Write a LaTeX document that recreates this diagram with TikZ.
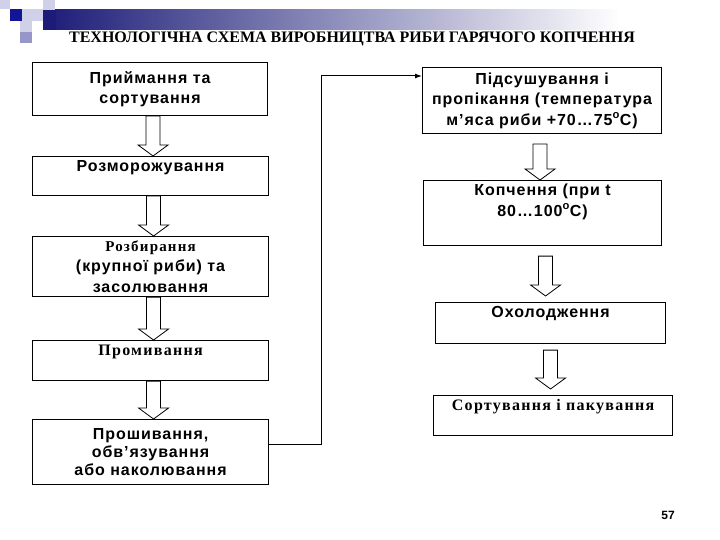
\documentclass[tikz,border=0pt]{standalone}
\usepackage{fontspec}
\setmainfont{Liberation Serif}
\newfontfamily\boxsans[LetterSpace=6]{Liberation Sans}
\newfontfamily\pagesans{Liberation Sans}
\newfontfamily\boxserif[LetterSpace=8]{Liberation Serif}
\usetikzlibrary{arrows.meta,calc}

\definecolor{barnavy}{RGB}{28,28,120}
\definecolor{sqblue}{RGB}{20,20,150}
\definecolor{sqlav}{RGB}{208,208,232}
\definecolor{sqmid}{RGB}{150,150,200}

\tikzset{
  stepbox/.style={draw, line width=1.1pt, anchor=north west, align=center,
    inner sep=3pt, font=\boxsans\bfseries\fontsize{16}{20.5}\selectfont},
  topbox/.style={stepbox, text depth=#1},
  serifbox/.style={font=\boxserif\bfseries\fontsize{16}{19}\selectfont},
  hollow/.style={draw, line width=0.8pt},
  elbow/.style={line width=1pt, -{Latex[length=7pt,width=5pt]}}
}

% hollow block arrow, x taken from the start point
\newcommand{\hollowarrow}[2]{%
  \draw[hollow] let \p1=#1, \p2=#2 in
    (\x1-7pt,\y1) -- (\x1-7pt,\y2+11pt) -- (\x1-15pt,\y2+11pt) -- (\x1,\y2)
    -- (\x1+15pt,\y2+11pt) -- (\x1+7pt,\y2+11pt) -- (\x1+7pt,\y1) -- cycle;}

\begin{document}
\begin{tikzpicture}[x=1pt,y=-1pt]
  \useasboundingbox (0,0) rectangle (720,540);

  % corner squares and top bar
  \shade[left color=barnavy, right color=white] (43,10) rectangle (620,30);
  \fill[barnavy] (43,10) rectangle (56,30);
  \fill[sqlav] (0,0) rectangle (10,9);
  \fill[sqlav] (43,0) rectangle (55,10);
  \fill[sqblue] (10,9) rectangle (22,21);
  \fill[sqlav] (22,9) rectangle (43,21);
  \fill[sqlav] (20,21) rectangle (32,32);
  \fill[sqmid] (20,32) rectangle (32,43);

  \node[font=\fontsize{16}{19}\selectfont\bfseries] (title) at (352,39)
    {ТЕХНОЛОГІЧНА СХЕМА ВИРОБНИЦТВА РИБИ ГАРЯЧОГО КОПЧЕННЯ};

  % left column
  \node[stepbox, minimum width=235, minimum height=53] (b1) at (32,62)
    {Приймання та\\сортування};
  \node[topbox=20pt, minimum width=236, minimum height=39] (b2) at (32,156)
    {Розморожування};
  \node[stepbox, minimum width=236, minimum height=60] (b3) at (32,236)
    {{\boxserif\bfseries\fontsize{15}{18}\selectfont Розбирання}\\(крупної риби) та\\засолювання};
  \node[topbox=21pt, serifbox, minimum width=236, minimum height=40] (b4) at (32,340)
    {Промивання};
  \node[stepbox, minimum width=236, minimum height=65,
    font=\boxsans\bfseries\fontsize{16}{18}\selectfont] (b5) at (32,419)
    {Прошивання,\\обв’язування\\або наколювання};

  % right column
  \node[stepbox, minimum width=239, minimum height=66] (b6) at (422,67)
    {Підсушування і\\пропікання (температура\\м’яса риби +70…75\textsuperscript{o}C)};
  \node[topbox=26pt, minimum width=238, minimum height=65] (b7) at (423,180)
    {Копчення (при t\\80…100\textsuperscript{o}C)};
  \node[topbox=22pt, minimum width=230, minimum height=41] (b8) at (435,302)
    {Охолодження};
  \node[topbox=21pt, serifbox, minimum width=239, minimum height=40] (b9) at (433,395)
    {Сортування і пакування};

  \node[font=\pagesans\bfseries\fontsize{12}{14}\selectfont] (page) at (668,515) {57};

  % block arrows
  \hollowarrow{($(b1.south)+(3,0)$)}{(b2.north)}
  \hollowarrow{($(b2.south)+(3,0)$)}{(b3.north)}
  \hollowarrow{($(b3.south)+(3,0)$)}{(b4.north)}
  \hollowarrow{($(b4.south)+(3,0)$)}{(b5.north)}
  \hollowarrow{($(b6.south)+(-2,10)$)}{(b7.north)}
  \hollowarrow{($(b7.south)+(3,10)$)}{($(b8.north)+(0,-6)$)}
  \hollowarrow{($(b8.south)+(0,6)$)}{($(b9.north)+(0,-6)$)}

  % return line to the right column
  \coordinate (bend) at (321,76);
  \draw[elbow] ($(b5.east)+(0,-8)$) -| (bend) -- (bend -| b6.west);
\end{tikzpicture}
\end{document}
